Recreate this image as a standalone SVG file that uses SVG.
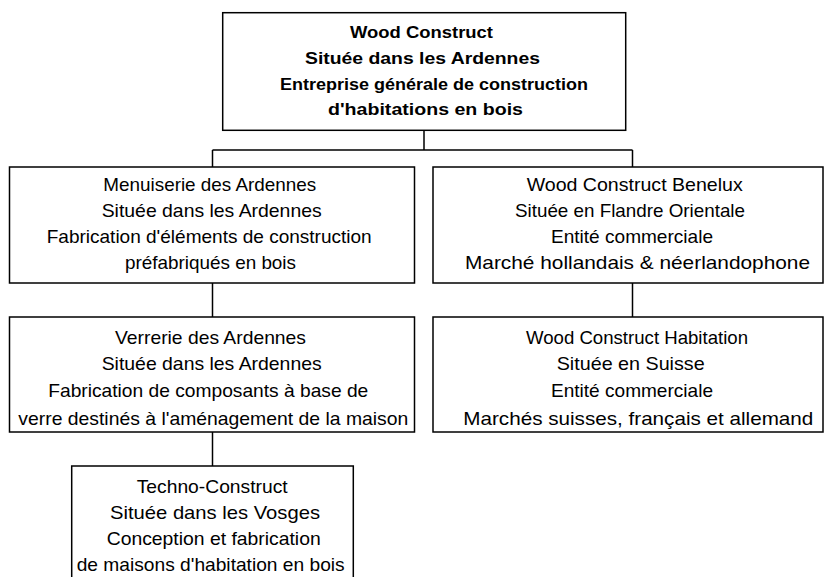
<svg xmlns="http://www.w3.org/2000/svg" width="825" height="577" viewBox="0 0 825 577">
  <style>
    .box { fill: #ffffff; stroke: #000000; stroke-width: 1.5; }
    .link { fill: none; stroke: #000000; stroke-width: 1.5; }
    text { font-family: "Liberation Sans", Arial, sans-serif; fill: #000000; }
    .head { font-size: 17px; font-weight: bold; }
    .body { font-size: 18.5px; }
  </style>
  <rect width="825" height="577" fill="#ffffff"/>

  <!-- connectors -->
  <g id="connectors">
    <path class="link" d="M424 130 V150 M212.5 150 H632.5 M212.5 150 V167 M632.5 150 V167"/>
    <path class="link" d="M212.5 283 V317 M632.5 283 V317"/>
    <path class="link" d="M212.5 432 V466"/>
  </g>

  <!-- parent company -->
  <g id="wood-construct">
    <rect class="box" x="222.7" y="12.7" width="403" height="117.6"/>
    <text class="head" x="350" y="38" textLength="143" lengthAdjust="spacingAndGlyphs">Wood Construct</text>
    <text class="head" x="305" y="63.5" textLength="235" lengthAdjust="spacingAndGlyphs">Située dans les Ardennes</text>
    <text class="head" x="280" y="89.5" textLength="308" lengthAdjust="spacingAndGlyphs">Entreprise générale de construction</text>
    <text class="head" x="328" y="115" textLength="195" lengthAdjust="spacingAndGlyphs">d'habitations en bois</text>
  </g>

  <g id="menuiserie">
    <rect class="box" x="9.5" y="167" width="405" height="116"/>
    <text class="body" x="103.3" y="190.5" textLength="213" lengthAdjust="spacingAndGlyphs">Menuiserie des Ardennes</text>
    <text class="body" x="101.7" y="216.5" textLength="220" lengthAdjust="spacingAndGlyphs">Située dans les Ardennes</text>
    <text class="body" x="46.7" y="242.5" textLength="325" lengthAdjust="spacingAndGlyphs">Fabrication d'éléments de construction</text>
    <text class="body" x="125" y="268.5" textLength="171" lengthAdjust="spacingAndGlyphs">préfabriqués en bois</text>
  </g>

  <g id="benelux">
    <rect class="box" x="433" y="167" width="390" height="116"/>
    <text class="body" x="526.7" y="190.5" textLength="216" lengthAdjust="spacingAndGlyphs">Wood Construct Benelux</text>
    <text class="body" x="515" y="216.5" textLength="230" lengthAdjust="spacingAndGlyphs">Située en Flandre Orientale</text>
    <text class="body" x="551" y="242.5" textLength="162" lengthAdjust="spacingAndGlyphs">Entité commerciale</text>
    <text class="body" x="465" y="268.5" textLength="345" lengthAdjust="spacingAndGlyphs">Marché hollandais &amp; néerlandophone</text>
  </g>

  <g id="verrerie">
    <rect class="box" x="9.5" y="317" width="405" height="115"/>
    <text class="body" x="115" y="343.5" textLength="191" lengthAdjust="spacingAndGlyphs">Verrerie des Ardennes</text>
    <text class="body" x="101.7" y="370" textLength="220" lengthAdjust="spacingAndGlyphs">Située dans les Ardennes</text>
    <text class="body" x="48.3" y="397" textLength="320" lengthAdjust="spacingAndGlyphs">Fabrication de composants à base de</text>
    <text class="body" x="18.3" y="424.5" textLength="390" lengthAdjust="spacingAndGlyphs">verre destinés à l'aménagement de la maison</text>
  </g>

  <g id="habitation">
    <rect class="box" x="433" y="317" width="390" height="115"/>
    <text class="body" x="526" y="343.5" textLength="222" lengthAdjust="spacingAndGlyphs">Wood Construct Habitation</text>
    <text class="body" x="556.7" y="370" textLength="148" lengthAdjust="spacingAndGlyphs">Située en Suisse</text>
    <text class="body" x="551" y="397" textLength="162" lengthAdjust="spacingAndGlyphs">Entité commerciale</text>
    <text class="body" x="463.3" y="424.5" textLength="350" lengthAdjust="spacingAndGlyphs">Marchés suisses, français et allemand</text>
  </g>

  <g id="techno-construct">
    <rect class="box" x="71.7" y="466" width="281.6" height="140"/>
    <text class="body" x="136.7" y="493" textLength="151" lengthAdjust="spacingAndGlyphs">Techno-Construct</text>
    <text class="body" x="110" y="519" textLength="210" lengthAdjust="spacingAndGlyphs">Située dans les Vosges</text>
    <text class="body" x="106.7" y="545" textLength="214" lengthAdjust="spacingAndGlyphs">Conception et fabrication</text>
    <text class="body" x="76.7" y="570.5" textLength="268" lengthAdjust="spacingAndGlyphs">de maisons d'habitation en bois</text>
  </g>
</svg>
